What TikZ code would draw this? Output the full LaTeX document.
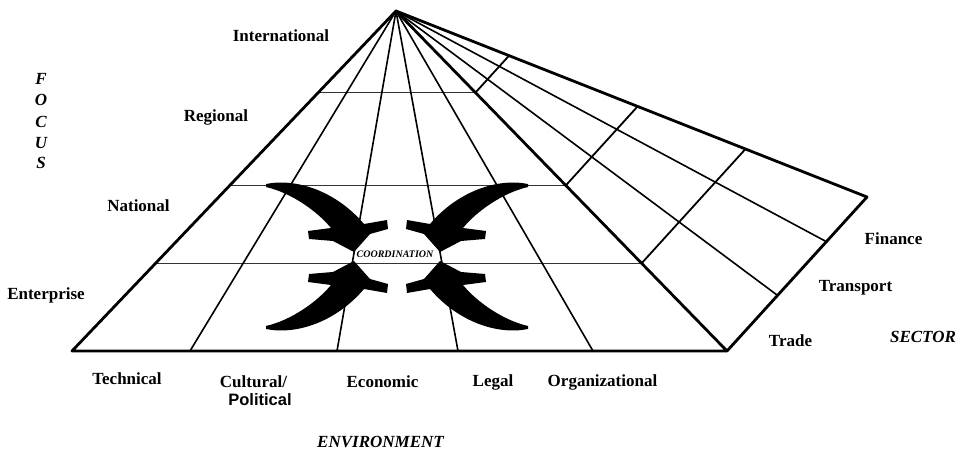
\documentclass[tikz,border=0pt]{standalone}
\usepackage{fontspec}
\setmainfont{Liberation Serif}
\newfontfamily\sansfam{Liberation Sans}
\usetikzlibrary{calc}
\begin{document}
\begin{tikzpicture}[x=1pt,y=-1pt, line join=round, line cap=round,
  edgeline/.style={line width=2.8pt},
  ray/.style={line width=1.6pt},
  rung/.style={line width=1.8pt},
  hline/.style={line width=1pt, black!80},
  lab/.style={font=\fontsize{17}{20}\selectfont\bfseries, anchor=base, inner sep=0pt},
  ital/.style={font=\fontsize{17}{20}\selectfont\bfseries\itshape, anchor=base, inner sep=0pt}]
\useasboundingbox (0,0) rectangle (962,454);

% key points
\coordinate (P) at (396,11);
\coordinate (L) at (72,351);
\coordinate (R) at (727,351);
\coordinate (K) at (867,197);
\coordinate (b1) at (190,351);
\coordinate (b2) at (337,351);
\coordinate (b3) at (458,351);
\coordinate (b4) at (593,351);
\coordinate (s1) at (777,295);
\coordinate (s2) at (827,242);

% front horizontals
\foreach \t in {0.24,0.513,0.742}
  \draw[hline] ($(P)!\t!(L)$) -- ($(P)!\t!(R)$);
% side cross lines
\foreach \t in {0.24,0.513,0.742}
  \draw[rung] ($(P)!\t!(R)$) -- ($(P)!\t!(K)$);
% rays
\foreach \b in {b1,b2,b3,b4,s1,s2}
  \draw[ray] (P) -- (\b);
% outer edges
\draw[edgeline] (L) -- (P) -- (R) -- cycle;
\draw[edgeline] (P) -- (K) -- (R);

% coordination arrows
\foreach \sx/\sy in {1/1,-1/1,1/-1,-1/-1}
  \fill[shift={(397,256.5)}, xscale=\sx, yscale=\sy]
    (-131,-72.5) .. controls (-102,-78.5) and (-62,-66.5) .. (-33,-32.5)
    -- (-10,-36.5) -- (-9,-27.5) -- (-27,-22.5) -- (-43,-4.5)
    -- (-64,-15.5) -- (-88,-17.5) -- (-89,-25.5) -- (-66,-28.5)
    .. controls (-79,-44.5) and (-105,-63.5) .. (-131,-69.5) -- cycle;

\node[font=\fontsize{10}{12}\selectfont\bfseries\itshape, anchor=base, inner sep=0pt] (coord) at (395,257.5) {COORDINATION};

% focus labels
\node[lab] (intl) at (281,41.5) {International};
\node[lab] (reg) at (216,121.5) {Regional};
\node[lab] (nat) at (138.5,211.5) {National};
\node[lab] (ent) at (46,300) {Enterprise};
\node[ital] (f1) at (41,85) {F};
\node[ital] (f2) at (41,105.5) {O};
\node[ital] (f3) at (41,127.5) {C};
\node[ital] (f4) at (41,149) {U};
\node[ital] (f5) at (41,169) {S};

% environment labels
\node[lab] (tech) at (127,385) {Technical};
\node[lab] (cult) at (253.5,388) {Cultural/};
\node[font=\fontsize{16.5}{19}\sansfam\bfseries, anchor=base, inner sep=0pt] (pol) at (260,405.5) {Political};
\node[lab] (econ) at (382.5,388) {Economic};
\node[lab] (legal) at (493,387) {Legal};
\node[lab] (org) at (602.5,387) {Organizational};
\node[ital] (env) at (380.5,448) {ENVIRONMENT};

% sector labels
\node[lab] (fin) at (893.5,245) {Finance};
\node[lab] (trans) at (855.5,291.5) {Transport};
\node[lab] (trade) at (790.5,346.5) {Trade};
\node[ital] (sector) at (923,343) {SECTOR};
\end{tikzpicture}
\end{document}
